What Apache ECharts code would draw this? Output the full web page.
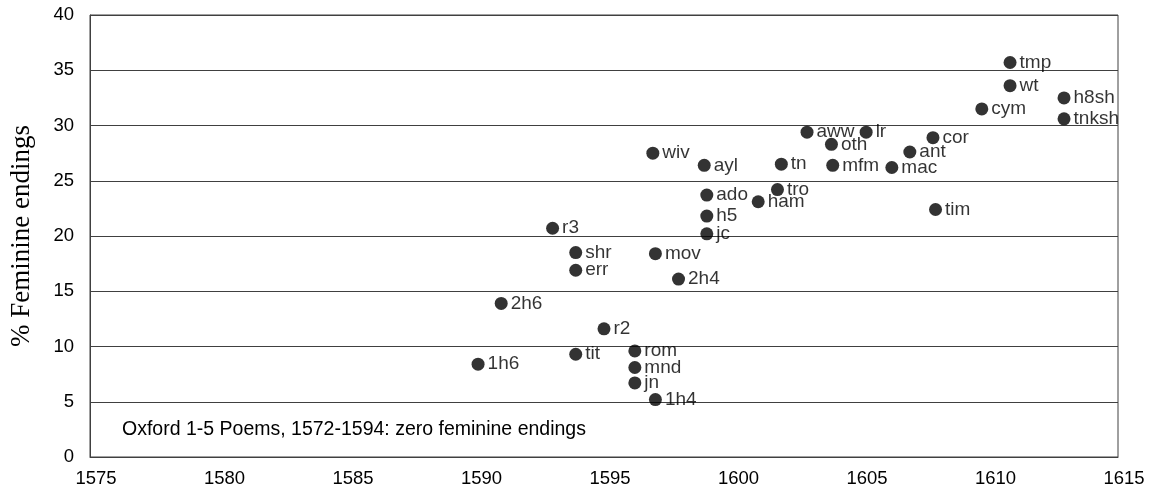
<!DOCTYPE html>
<html>
<head>
<meta charset="utf-8">
<script src="https://cdn.jsdelivr.net/npm/echarts@6/dist/echarts.min.js"></script>
<style>html,body{margin:0;padding:0;background:#fff}#c{width:1152px;height:491px}</style>
</head>
<body>
<div id="c"></div>
<script>
var plays = ['1h6','tit','r2','2h6','r3','shr','err','mov','2h4','rom','mnd','jn','1h4','h5','jc','wiv','ayl','tn','mfm','mac','aww','lr','oth','ant','cor','ado','tro','ham','tim','tmp','wt','cym','h8sh','tnksh'];
var years = [1590.1,1593.9,1595.0,1591.0,1593.0,1593.9,1593.9,1597.0,1597.9,1596.2,1596.2,1596.2,1597.0,1599.0,1599.0,1596.9,1598.9,1601.9,1603.9,1606.2,1602.9,1605.2,1603.85,1606.9,1607.8,1599.0,1601.75,1601.0,1607.9,1610.8,1610.8,1609.7,1612.9,1612.9];
var femPct = [8.4,9.3,11.6,13.9,20.7,18.5,16.9,18.4,16.1,9.6,8.1,6.7,5.2,21.8,20.2,27.5,26.4,26.5,26.4,26.2,29.4,29.4,28.3,27.6,28.9,23.7,24.2,23.1,22.4,35.7,33.6,31.5,32.5,30.6];
var xTicks = [1575,1580,1585,1590,1595,1600,1605,1610,1615];
var yTicks = [0,5,10,15,20,25,30,35,40];
var yTitle = '% Feminine endings';
var note = 'Oxford 1-5 Poems, 1572-1594: zero feminine endings';

var pts = plays.map(function(n,i){ return {name:n, value:[years[i], femPct[i]]}; });
var chart = echarts.init(document.getElementById('c'), null, {renderer:'canvas'});
chart.setOption({
  animation:false,
  backgroundColor:'#fff',
  textStyle:{fontFamily:'Liberation Sans, Arial, sans-serif'},
  grid:{left:88,right:34,top:15,bottom:34,show:true,borderColor:'#404040',borderWidth:1,containLabel:false},
  xAxis:{type:'value',min:xTicks[0],max:xTicks[xTicks.length-1],interval:5,
    axisLine:{show:true,lineStyle:{color:'#404040',width:1}},
    axisTick:{show:false},splitLine:{show:false},
    axisLabel:{color:'#000',fontSize:18.5,margin:12,padding:[0,0,0,12],fontFamily:'Liberation Sans',
      formatter:function(v){return String(v);}}},
  yAxis:{type:'value',min:yTicks[0],max:yTicks[yTicks.length-1],interval:5,
    name:yTitle,nameLocation:'middle',nameGap:55,
    nameTextStyle:{fontFamily:'Liberation Serif',fontSize:27,color:'#000'},
    axisLine:{show:true,lineStyle:{color:'#404040',width:1}},
    axisTick:{show:false},
    splitLine:{show:true,lineStyle:{color:'#404040',width:1}},
    axisLabel:{color:'#000',fontSize:18.5,margin:16,padding:[4,0,0,0],fontFamily:'Liberation Sans'}},
  series:[{type:'scatter',data:pts,symbol:'circle',symbolSize:13,
    itemStyle:{color:'#000'},
    label:{show:true,position:'right',distance:3,formatter:'{b}',color:'#000',fontSize:19,fontFamily:'Liberation Sans'},
    labelLayout:{hideOverlap:false}}],
  graphic:[{type:'text',left:122,top:420,style:{text:note,fill:'#000',font:'19.5px "Liberation Sans", Arial, sans-serif'}}]
});
</script>
</body>
</html>
